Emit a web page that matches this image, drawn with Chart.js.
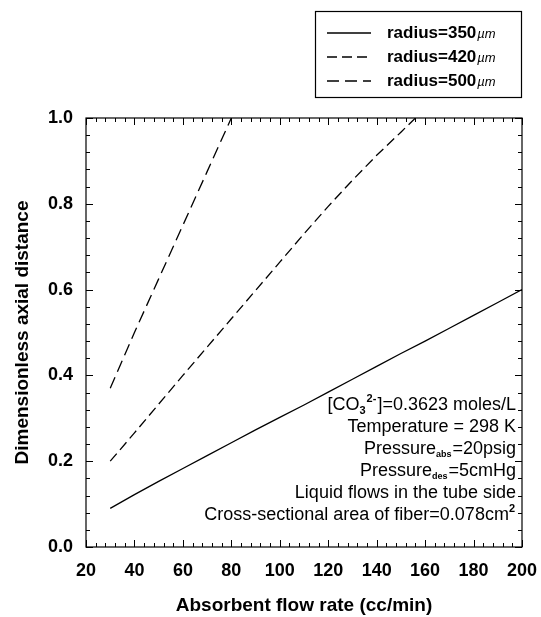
<!DOCTYPE html>
<html lang="en">
<head>
    <meta charset="UTF-8">
    <title>Axial distance vs absorbent flow rate</title>
    <script src="https://cdn.jsdelivr.net/npm/chart.js"></script>
    <style>
        body { margin: 0; background: #fff; }
    </style>
</head>
<body>
    <canvas id="axialChart" width="541" height="617"></canvas>
    <script>
        // values
        const radii = [350, 420, 500];

        const flow350 = [30, 40, 50, 60, 70, 80, 90, 100, 110, 120, 130, 140, 150, 160, 170, 180, 190, 200];
        const dist350 = [0.09, 0.122, 0.153, 0.183, 0.213, 0.243, 0.273, 0.302, 0.331, 0.361, 0.391, 0.421, 0.451, 0.48, 0.51, 0.54, 0.57, 0.60];

        const flow420 = [30, 40, 50, 60, 70, 80, 90, 100, 110, 120, 130, 140, 150, 156];
        const dist420 = [0.20, 0.266, 0.333, 0.40, 0.466, 0.532, 0.598, 0.664, 0.73, 0.794, 0.855, 0.913, 0.967, 1.0];

        const flow500 = [30, 40, 50, 60, 70, 80];
        const dist500 = [0.37, 0.50, 0.625, 0.75, 0.875, 1.0];

        const xTicks = [20, 40, 60, 80, 100, 120, 140, 160, 180, 200];
        const yTicks = [0.0, 0.2, 0.4, 0.6, 0.8, 1.0];

        const notes = [
            [['[CO', 'n'], ['3', 'sub'], ['2-', 'sup'], [']=0.3623 moles/L', 'n']],
            [['Temperature = 298 K', 'n']],
            [['Pressure', 'n'], ['abs', 'sub'], ['=20psig', 'n']],
            [['Pressure', 'n'], ['des', 'sub'], ['=5cmHg', 'n']],
            [['Liquid flows in the tube side', 'n']],
            [['Cross-sectional area of fiber=0.078cm', 'n'], ['2', 'sup']]
        ];

        const FONT = "'Liberation Sans', Arial, sans-serif";

        function pts(xs, ys) {
            return xs.map((x, i) => ({ x: x, y: ys[i] }));
        }

        // frame with inward ticks on all four sides
        const frameTicks = {
            id: 'frameTicks',
            afterDatasetsDraw(chart) {
                const { ctx, chartArea: a, scales: { x, y } } = chart;
                ctx.save();
                ctx.strokeStyle = '#000';
                ctx.lineWidth = 1.2;
                ctx.strokeRect(a.left, a.top, a.right - a.left, a.bottom - a.top);
                ctx.lineWidth = 1;
                ctx.beginPath();
                for (let i = 0; i <= 45; i++) {
                    const px = Math.round(x.getPixelForValue(20 + i * 4)) + 0.5;
                    const len = i % 5 === 0 ? 7 : 4;
                    ctx.moveTo(px, a.bottom); ctx.lineTo(px, a.bottom - len);
                    ctx.moveTo(px, a.top); ctx.lineTo(px, a.top + len);
                }
                for (let i = 0; i <= 25; i++) {
                    const py = Math.round(y.getPixelForValue(i * 0.04)) + 0.5;
                    const len = i % 5 === 0 ? 7 : 4;
                    ctx.moveTo(a.left, py); ctx.lineTo(a.left + len, py);
                    ctx.moveTo(a.right, py); ctx.lineTo(a.right - len, py);
                }
                ctx.stroke();
                ctx.restore();
            }
        };

        // boxed legend at the top right
        const boxLegend = {
            id: 'boxLegend',
            afterDraw(chart) {
                const ctx = chart.ctx;
                ctx.save();
                ctx.strokeStyle = '#000';
                ctx.lineWidth = 1.2;
                ctx.strokeRect(315.5, 11.5, 206, 86);
                chart.data.datasets.forEach((ds, i) => {
                    const yy = 33 + i * 24;
                    ctx.setLineDash(ds.borderDash || []);
                    ctx.lineWidth = ds.borderWidth;
                    ctx.beginPath();
                    ctx.moveTo(327, yy);
                    ctx.lineTo(371, yy);
                    ctx.stroke();
                    ctx.setLineDash([]);
                    ctx.fillStyle = '#000';
                    ctx.textBaseline = 'middle';
                    ctx.font = 'bold 17px ' + FONT;
                    ctx.fillText(ds.label, 387, yy);
                    const w = ctx.measureText(ds.label).width;
                    ctx.font = 'italic 13px ' + FONT;
                    ctx.fillText('\u00b5m', 387 + w + 1, yy + 1);
                });
                ctx.restore();
            }
        };

        // right-aligned notes with sub/superscripts
        const noteText = {
            id: 'noteText',
            afterDraw(chart) {
                const ctx = chart.ctx;
                const right = chart.chartArea.right - 6;
                ctx.save();
                ctx.fillStyle = '#000';
                ctx.textBaseline = 'middle';
                notes.forEach((line, i) => {
                    const yy = 405 + i * 22;
                    const fontOf = k => k === 'n' ? '18px ' + FONT : (k === 'sub' && line[0][0] === 'Pressure' ? 'bold 9px ' : 'bold 11px ') + FONT;
                    let total = 0;
                    line.forEach(([t, k]) => { ctx.font = fontOf(k); total += ctx.measureText(t).width + (k === 'n' ? 0 : 1); });
                    let xx = right - total;
                    line.forEach(([t, k]) => {
                        ctx.font = fontOf(k);
                        const dy = k === 'sub' ? 6 : (k === 'sup' ? -6 : 0);
                        ctx.fillText(t, xx, yy + dy);
                        xx += ctx.measureText(t).width + (k === 'n' ? 0 : 1);
                    });
                });
                ctx.restore();
            }
        };

        const styles = [
            { dash: [] },
            { dash: [10, 5] },
            { dash: [12, 6] }
        ];
        const series = [pts(flow350, dist350), pts(flow420, dist420), pts(flow500, dist500)];

        new Chart(document.getElementById('axialChart'), {
            type: 'line',
            data: {
                datasets: series.map((d, i) => ({
                    label: 'radius=' + radii[i],
                    data: d,
                    borderColor: '#000',
                    borderWidth: 1.3,
                    borderDash: styles[i].dash,
                    pointRadius: 0,
                    fill: false,
                    tension: 0
                }))
            },
            options: {
                responsive: false,
                animation: false,
                layout: { padding: { top: 118, right: 19, bottom: 0, left: 0 } },
                plugins: {
                    legend: { display: false },
                    tooltip: { enabled: false }
                },
                scales: {
                    x: {
                        type: 'linear',
                        min: 20,
                        max: 200,
                        afterBuildTicks: s => { s.ticks = xTicks.map(v => ({ value: v })); },
                        ticks: { color: '#000', font: { family: FONT, size: 18, weight: 'bold' }, padding: 13, maxRotation: 0 },
                        grid: { display: false, drawTicks: false },
                        border: { display: false },
                        title: { display: true, text: 'Absorbent flow rate (cc/min)', color: '#000', font: { family: FONT, size: 19, weight: 'bold' }, padding: { top: 0, bottom: 0 } },
                        afterFit: s => { s.height = 70; s.paddingLeft = 0; s.paddingRight = 0; }
                    },
                    y: {
                        min: 0,
                        max: 1,
                        afterBuildTicks: s => { s.ticks = yTicks.map(v => ({ value: v })); },
                        ticks: { color: '#000', font: { family: FONT, size: 18, weight: 'bold' }, padding: 13, callback: v => v.toFixed(1) },
                        grid: { display: false, drawTicks: false },
                        border: { display: false },
                        title: { display: true, text: 'Dimensionless axial distance', color: '#000', font: { family: FONT, size: 19, weight: 'bold' }, padding: { top: 11, bottom: 0 } },
                        afterFit: s => { s.width = 86; s.paddingTop = 0; s.paddingBottom = 0; }
                    }
                }
            },
            plugins: [frameTicks, boxLegend, noteText]
        });
    </script>
</body>
</html>
